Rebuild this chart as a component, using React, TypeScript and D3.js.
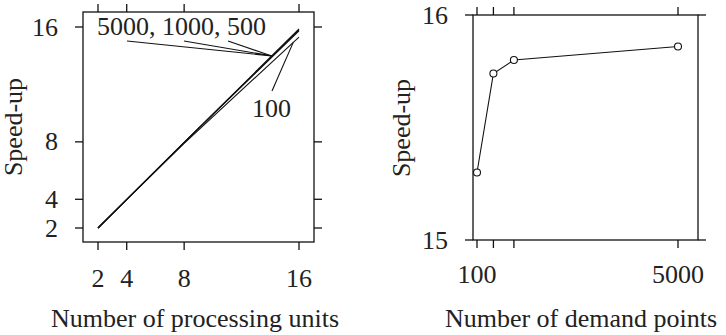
import React from "react";
import * as d3 from "d3";

const width = 726;
const height = 335;
const font = "'Liberation Serif', 'Times New Roman', Times, serif";

// left panel: speed-up vs number of processing units, one line per demand-point count
const procUnits = [2, 4, 8, 16];
const procTicks = [2, 4, 8, 16];
const speedupSeries = [
  { name: "5000", values: [2, 3.99, 7.97, 15.86] },
  { name: "1000", values: [2, 3.99, 7.96, 15.8] },
  { name: "500", values: [2, 3.98, 7.95, 15.74] },
  { name: "100", values: [2, 3.97, 7.9, 15.3] },
];

// right panel: speed-up at 16 units vs number of demand points
const demandPoints = [100, 500, 1000, 5000];
const speedupAt16 = [15.3, 15.74, 15.8, 15.86];
const demandTickLabels = [100, 5000];
const speedTicks = [15, 16];

const left = { x0: 83, x1: 314, y0: 12, y1: 242 };
const right = { x0: 473, x1: 698, y0: 15, y1: 240 };
const tick = 8;

const App = () => {
  const xL = d3.scaleLinear().domain([2, 16]).range([98, 299]);
  const yL = d3.scaleLinear().domain([2, 16]).range([228, 27]);
  const xR = d3.scaleLinear().domain([100, 5000]).range([477, 678]);
  const yR = d3.scaleLinear().domain([15, 16]).range([240, 15]);

  const lineL = d3
    .line<number>()
    .x((_, i) => xL(procUnits[i]))
    .y((d) => yL(d));
  const lineR = d3
    .line<number>()
    .x((_, i) => xR(demandPoints[i]))
    .y((d) => yR(d));

  // where the leader lines meet the lines
  const at = (s: number[], u: number) => {
    const i = d3.bisectRight(procUnits, u) - 1;
    const t = (u - procUnits[i]) / (procUnits[i + 1] - procUnits[i]);
    return s[i] + t * (s[i + 1] - s[i]);
  };
  const p1 = { x: xL(14.1), y: yL(at(speedupSeries[0].values, 14.1)) };
  const p2 = { x: xL(15.6), y: yL(at(speedupSeries[3].values, 15.6)) };

  const stroke = "#111";

  return (
    <svg
      width={width}
      height={height}
      style={{
        position: "absolute",
        left: 0,
        top: 0,
        background: "#fff",
        fontFamily: font,
        fontSize: "26px",
      }}
    >
      <g fill="#222">
        {/* left panel */}
        <g stroke={stroke} strokeWidth={1.3} fill="none">
          <rect x={left.x0} y={left.y0} width={left.x1 - left.x0} height={left.y1 - left.y0} />
          {procTicks.map((t) => (
            <g key={"lx" + t}>
              <line x1={xL(t)} x2={xL(t)} y1={left.y0 - tick} y2={left.y0} />
              <line x1={xL(t)} x2={xL(t)} y1={left.y1} y2={left.y1 + tick} />
              <line x1={left.x0 - tick} x2={left.x0} y1={yL(t)} y2={yL(t)} />
              <line x1={left.x1} x2={left.x1 + tick} y1={yL(t)} y2={yL(t)} />
            </g>
          ))}
        </g>
        {procTicks.map((t) => (
          <text key={"lyl" + t} x={58} y={yL(t)} dy="0.33em" textAnchor="end">
            {t}
          </text>
        ))}
        {procTicks.map((t) => (
          <text key={"lxl" + t} x={xL(t)} y={287} textAnchor="middle">
            {t}
          </text>
        ))}
        <g fill="none" stroke={stroke} strokeWidth={1.1}>
          {speedupSeries.map((s) => (
            <path key={s.name} d={lineL(s.values) || ""} />
          ))}
          <line x1={127} y1={41} x2={p1.x} y2={p1.y} />
          <line x1={184} y1={41} x2={p1.x} y2={p1.y} />
          <line x1={228} y1={41} x2={p1.x} y2={p1.y} />
          <line x1={272} y1={91} x2={p2.x} y2={p2.y} />
        </g>
        <text x={97} y={35}>5000, 1000, 500</text>
        <text x={252} y={117}>100</text>
        <text transform="translate(22,127) rotate(-90)" textAnchor="middle">
          Speed-up
        </text>
        <text x={195} y={327} textAnchor="middle">
          Number of processing units
        </text>

        {/* right panel */}
        <g stroke={stroke} strokeWidth={1.3} fill="none">
          <rect x={right.x0} y={right.y0} width={right.x1 - right.x0} height={right.y1 - right.y0} />
          {demandPoints.map((t) => (
            <g key={"rx" + t}>
              <line x1={xR(t)} x2={xR(t)} y1={right.y0 - tick} y2={right.y0} />
              <line x1={xR(t)} x2={xR(t)} y1={right.y1} y2={right.y1 + tick} />
            </g>
          ))}
          {speedTicks.map((t) => (
            <g key={"ry" + t}>
              <line x1={right.x0 - tick} x2={right.x0} y1={yR(t)} y2={yR(t)} />
              <line x1={right.x1} x2={right.x1 + tick} y1={yR(t)} y2={yR(t)} />
            </g>
          ))}
        </g>
        {speedTicks.map((t) => (
          <text key={"ryl" + t} x={448} y={yR(t)} dy="0.33em" textAnchor="end">
            {t}
          </text>
        ))}
        {demandTickLabels.map((t) => (
          <text key={"rxl" + t} x={xR(t)} y={283} textAnchor="middle">
            {t}
          </text>
        ))}
        <path d={lineR(speedupAt16) || ""} fill="none" stroke={stroke} strokeWidth={1.1} />
        {speedupAt16.map((v, i) => (
          <circle key={i} cx={xR(demandPoints[i])} cy={yR(v)} r={3.5} fill="#fff" stroke={stroke} strokeWidth={1.1} />
        ))}
        <text transform="translate(410,128) rotate(-90)" textAnchor="middle">
          Speed-up
        </text>
        <text x={581} y={327} textAnchor="middle">
          Number of demand points
        </text>
      </g>
    </svg>
  );
};

export default App;
